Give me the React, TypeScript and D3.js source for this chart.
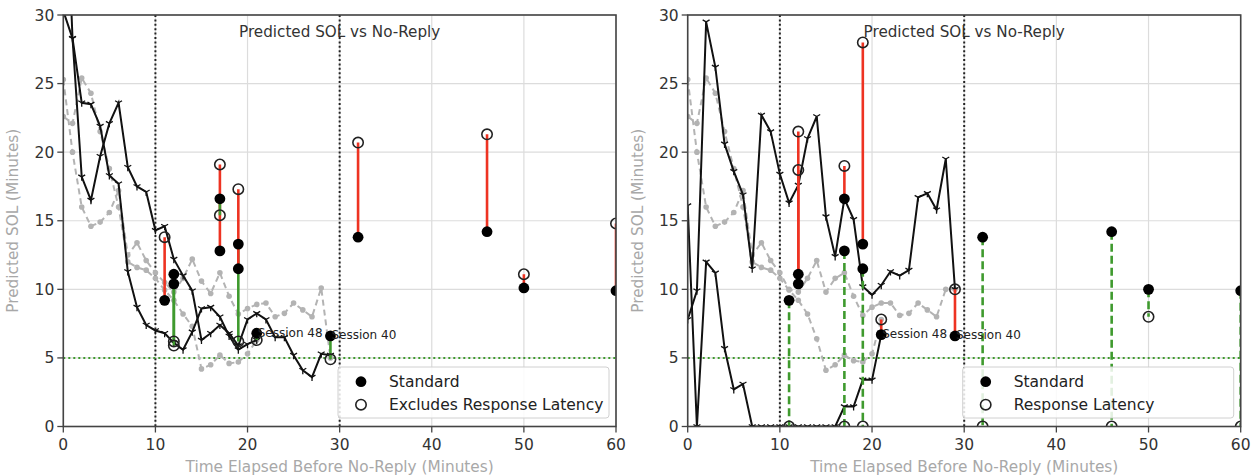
import React from "react";
import * as d3 from "d3";

// axis ticks
const xTicks = [0, 10, 20, 30, 40, 50, 60];
const yTicks = [0, 5, 10, 15, 20, 25, 30];
const refMinutes = [10, 30];
const thresholdSol = 5;

const titleText = "Predicted SOL vs No-Reply";
const yLabelText = "Predicted SOL (Minutes)";
const xLabelText = "Time Elapsed Before No-Reply (Minutes)";

// left panel: per-minute predicted SOL, index = minute
const blackLeft48 = [30.3, 28.3, 23.6, 23.5, 21.9, 18.3, 17.7, 11.3, 8.7, 7.4, 7.0, 6.8, 6.1, 5.6, 6.9, 8.6, 8.7, 8.0, 6.6, 5.6, 6.0, 6.3];
const blackLeft40 = [45, 28.3, 18.2, 16.5, 19.7, 22.1, 23.6, 18.9, 17.5, 17.1, 14.3, 14.6, 12.2, 11.0, 9.9, 6.3, 6.8, 7.4, 6.8, 5.9, 7.8, 8.25, 7.8, 6.5, 6.5, 5.2, 4.1, 3.6, 5.3, 5.2];
const grayLeft40 = [25.3, 20.0, 16.0, 14.6, 14.9, 15.6, 17.2, 12.5, 13.4, 12.1, 11.2, 10.5, 9.8, 10.8, 12.2, 10.6, 9.7, 11.2, 9.5, 8.2, 8.6, 8.9, 9.0, 8.0, 8.25, 9.0, 8.5, 8.0, 10.1, 5.0];
const grayLeft48 = [22.6, 22.1, 25.4, 24.3, 21.5, 18.8, 16.0, 12.0, 11.6, 11.4, 10.8, 9.95, 9.2, 8.2, 7.3, 4.2, 4.5, 5.2, 4.6, 4.7, 5.3, 6.3];

// right panel
const blackRight40 = [7.8, 9.9, 29.5, 26.2, 20.6, 18.6, 16.9, 11.5, 22.7, 21.5, 18.4, 16.3, 17.6, 21.0, 22.6, 15.3, 12.4, 16.6, 15.1, 10.2, 9.6, 10.3, 11.3, 11.0, 11.4, 16.7, 17.0, 15.8, 19.5, 10.0];
const blackRight48 = [16.1, 0, 12.0, 11.2, 5.7, 2.7, 3.1, 0, 0, 0, 0, 0, 0, 0, 0, 0, 0, 1.45, 1.45, 3.4, 3.4, 6.7];
const grayRight40 = [25.3, 20.0, 16.0, 14.6, 14.9, 15.6, 17.2, 12.5, 13.4, 12.1, 11.2, 10.0, 9.8, 10.8, 12.1, 9.8, 10.8, 11.2, 9.5, 8.1, 8.7, 9.0, 9.0, 8.1, 8.25, 9.0, 8.5, 8.0, 10.0, 10.0];
const grayRight48 = [22.6, 22.1, 25.4, 24.3, 21.5, 18.8, 16.0, 12.0, 11.6, 11.4, 10.8, 9.95, 9.2, 8.2, 6.4, 4.1, 4.5, 5.2, 4.8, 4.7, 5.3, 7.8];

// no-reply events: standard (filled) vs alternative (open), in draw order
const stemMinutesLeft = [11, 12, 12, 17, 17, 19, 19, 21, 29, 32, 46, 50, 60];
const stemStandardLeft = [9.2, 11.1, 10.4, 12.8, 16.6, 13.3, 11.5, 6.8, 6.6, 13.8, 14.2, 10.1, 9.9];
const stemAltLeft = [13.8, 6.2, 5.9, 19.1, 15.4, 6.2, 17.3, 6.3, 4.9, 20.7, 21.3, 11.1, 14.8];

const stemMinutesRight = [11, 12, 12, 17, 17, 19, 19, 21, 29, 32, 46, 50, 60];
const stemStandardRight = [9.2, 11.1, 10.4, 16.6, 12.8, 13.3, 11.5, 6.7, 6.6, 13.8, 14.2, 10.0, 9.9];
const stemAltRight = [0, 18.7, 21.5, 19.0, 0, 28.0, 0, 7.8, 10.0, 0, 0, 8.0, 0];

// session annotations
const sessionNames = ["Session 48", "Session 40"];
const sessionMinutes = [21, 29];

const W = 1255;
const H = 476;
const TOP = 15;
const BOTTOM = 426.5;
const FONT = "'DejaVu Sans', sans-serif";
const RED = "#ee3322";
const GREEN = "#3f9a2e";

function triPath(s: number) {
  const a = s * 0.866;
  const b = s * 0.5;
  return `M0,0L0,${s}M0,0L${-a},${-b}M0,0L${a},${-b}`;
}

function Panel({ x0, x1, id, black, gray, stemT, stemStd, stemAlt, altLabel, dashedGreen, sessionVals }) {
  const x = d3.scaleLinear().domain([0, 60]).range([x0, x1]);
  const y = d3.scaleLinear().domain([0, 30]).range([BOTTOM, TOP]);
  const line = d3.line<number>().x((d, i) => x(i)).y((d) => y(d));
  const cx = (x0 + x1) / 2;
  const clip = `clip-${id}`;

  return (
    <g>
      <defs>
        <clipPath id={clip}>
          <rect x={x0} y={TOP} width={x1 - x0} height={BOTTOM - TOP} />
        </clipPath>
      </defs>
      {/* grid */}
      {xTicks.map((t) => (
        <line key={"gx" + t} x1={x(t)} x2={x(t)} y1={TOP} y2={BOTTOM} stroke="#dcdcdc" strokeWidth={1.2} />
      ))}
      {yTicks.map((t) => (
        <line key={"gy" + t} x1={x0} x2={x1} y1={y(t)} y2={y(t)} stroke="#dcdcdc" strokeWidth={1.2} />
      ))}

      <g clipPath={`url(#${clip})`}>
        {/* reference lines */}
        {refMinutes.map((m) => (
          <line key={"ref" + m} x1={x(m)} x2={x(m)} y1={TOP} y2={BOTTOM} stroke="#222" strokeWidth={2} strokeDasharray="2,2.4" />
        ))}
        <line x1={x0} x2={x1} y1={y(thresholdSol)} y2={y(thresholdSol)} stroke={GREEN} strokeWidth={2} strokeDasharray="2,3" />

        {/* gray dashed session lines */}
        {gray.map((vals, k) => (
          <g key={"g" + k}>
            <path d={line(vals)} fill="none" stroke="#b3b3b3" strokeWidth={2} strokeDasharray="6,4" />
            {vals.map((v, i) => (
              <circle key={i} cx={x(i)} cy={y(v)} r={2.8} fill="#b3b3b3" />
            ))}
          </g>
        ))}

        {/* black session lines */}
        {black.map((vals, k) => (
          <g key={"b" + k}>
            <path d={line(vals)} fill="none" stroke="#111" strokeWidth={2} />
            {vals.map((v, i) => (
              <path key={i} d={triPath(4)} transform={`translate(${x(i)},${y(v)})`} stroke="#111" strokeWidth={1.3} fill="none" />
            ))}
          </g>
        ))}

        {/* stems between standard and alternative */}
        {stemT.map((t, i) => {
          const up = stemAlt[i] > stemStd[i];
          return (
            <line
              key={"s" + i}
              x1={x(t)}
              x2={x(t)}
              y1={y(stemStd[i])}
              y2={y(stemAlt[i])}
              stroke={up ? RED : GREEN}
              strokeWidth={2.6}
              strokeDasharray={!up && dashedGreen ? "8,4" : undefined}
            />
          );
        })}
        {stemT.map((t, i) => (
          <circle key={"o" + i} cx={x(t)} cy={y(stemAlt[i])} r={5.2} fill="none" stroke="#222" strokeWidth={1.6} />
        ))}
        {stemT.map((t, i) => (
          <circle key={"f" + i} cx={x(t)} cy={y(stemStd[i])} r={5.4} fill="#000" />
        ))}
      </g>

      {/* session annotations */}
      {sessionNames.map((s, i) => (
        <text key={s} x={x(sessionMinutes[i]) + 1} y={y(sessionVals[i]) + 3.5} fontSize={12} fontFamily={FONT} fill="#222">
          {s}
        </text>
      ))}

      <text x={cx} y={37} textAnchor="middle" fontSize={15.2} fontFamily={FONT} fill="#333">
        {titleText}
      </text>

      {/* legend */}
      <g>
        <rect x={x1 - 278} y={367} width={271} height={51} rx={3} fill="#fff" fillOpacity={0.85} stroke="#d0d0d0" />
        <circle cx={x1 - 255} cy={381.7} r={5.4} fill="#000" />
        <circle cx={x1 - 255} cy={404.7} r={5.2} fill="none" stroke="#222" strokeWidth={1.6} />
        <text x={x1 - 227} y={387} fontSize={15.5} fontFamily={FONT} fill="#222">Standard</text>
        <text x={x1 - 227} y={410} fontSize={15.5} fontFamily={FONT} fill="#222">{altLabel}</text>
      </g>

      {/* frame */}
      <rect x={x0} y={TOP} width={x1 - x0} height={BOTTOM - TOP} fill="none" stroke="#444" strokeWidth={1.6} />

      {/* ticks */}
      {yTicks.map((t) => (
        <g key={"ty" + t}>
          <line x1={x0 - 6} x2={x0} y1={y(t)} y2={y(t)} stroke="#444" strokeWidth={1.3} />
          <text x={x0 - 9} y={y(t) + 5.5} textAnchor="end" fontSize={15.5} fontFamily={FONT} fill="#333">{t}</text>
        </g>
      ))}
      {xTicks.map((t) => (
        <g key={"tx" + t}>
          <line x1={x(t)} x2={x(t)} y1={BOTTOM} y2={BOTTOM + 6} stroke="#444" strokeWidth={1.3} />
          <text x={x(t)} y={BOTTOM + 23} textAnchor="middle" fontSize={15.5} fontFamily={FONT} fill="#333">{t}</text>
        </g>
      ))}

      <text x={cx} y={471.5} textAnchor="middle" fontSize={15.3} fontFamily={FONT} fill="#a8a8a8">
        {xLabelText}
      </text>
      <text
        transform={`translate(${x0 - 45},${(TOP + BOTTOM) / 2}) rotate(-90)`}
        textAnchor="middle"
        fontSize={15.3}
        fontFamily={FONT}
        fill="#a8a8a8"
      >
        {yLabelText}
      </text>
    </g>
  );
}

export default function App() {
  return (
    <svg width={W} height={H} style={{ position: "absolute", left: 0, top: 0, background: "#fff" }}>
      <rect width={W} height={H} fill="#fff" />
      <Panel
        id="left"
        x0={63.3}
        x1={616}
        black={[blackLeft48, blackLeft40]}
        gray={[grayLeft40, grayLeft48]}
        stemT={stemMinutesLeft}
        stemStd={stemStandardLeft}
        stemAlt={stemAltLeft}
        altLabel="Excludes Response Latency"
        dashedGreen={false}
        sessionVals={[6.8, 6.6]}
      />
      <Panel
        id="right"
        x0={687.7}
        x1={1240.7}
        black={[blackRight48, blackRight40]}
        gray={[grayRight40, grayRight48]}
        stemT={stemMinutesRight}
        stemStd={stemStandardRight}
        stemAlt={stemAltRight}
        altLabel="Response Latency"
        dashedGreen={true}
        sessionVals={[6.7, 6.6]}
      />
    </svg>
  );
}
